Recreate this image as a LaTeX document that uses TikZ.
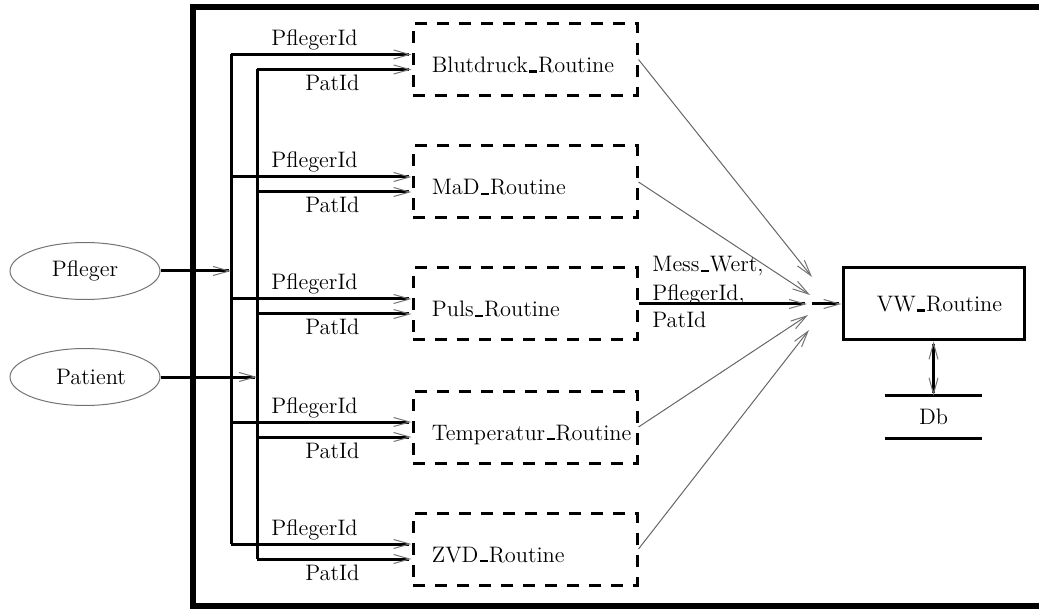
\documentclass[tikz,border=0pt]{standalone}
\usetikzlibrary{arrows.meta,shapes.geometric,calc}
% old-style LaTeX underscore: a short bar sitting on the baseline
\newcommand\us{\kern.06em\rule[-0.02em]{0.36em}{0.12em}\kern.04em}

\begin{document}
\begin{tikzpicture}[x=0.5pt,y=-0.5pt,
  font=\fontsize{11.2}{13.5}\selectfont,
  >={Straight Barb[length=8pt,width=4.5pt,line width=0.5pt,color=black!55]},
  wire/.style={line width=1.5pt},
  thinwire/.style={line width=0.5pt, draw=black!60},
  routine/.style={draw, dash pattern=on 6pt off 5pt, line width=1.5pt,
    minimum width=112pt, minimum height=36pt, inner sep=0pt},
  actor/.style={ellipse, draw=black!55, line width=0.5pt,
    minimum width=75pt, minimum height=28.5pt, inner sep=0pt},
  lbl/.style={inner sep=0pt},
]
\useasboundingbox (0,0) rectangle (1039,609);
\clip (0,0) rectangle (1039,609);

% system boundary, open to the right
\draw[line width=3pt] (1060,7) -- (193,7) -- (193,606) -- (1060,606);

% the five measuring routines with their two inputs each
\foreach \n/\c/\t in {1/59.5/Blutdruck, 2/182/MaD, 3/304/Puls, 4/427/Temperatur, 5/549/ZVD}{
  \node[routine] (b\n) at (525,\c) {};
  \node[lbl, anchor=base west] (bt\n) at ($(b\n.west)+(20,13)$) {\t\us Routine};
  \coordinate (pf\n) at (231,{\c-5});
  \coordinate (pa\n) at (257,{\c+10});
  \draw[wire,->] (pf\n) -- (pf\n -| b\n.west);
  \draw[wire,->] (pa\n) -- (pa\n -| b\n.west);
  \node[lbl, anchor=base west] (lpf\n) at ($(pf\n)+(40,-9)$) {PflegerId};
  \node[lbl, anchor=base west] (lpa\n) at ($(pa\n)+(48,21)$) {PatId};
}

% distribution buses
\draw[wire] (pf1) -- (pf5);
\draw[wire] (pa1) -- (pa5);

% external actors
\node[actor] (pfleger) at (85,271) {Pfleger};
\node[actor] (patient) at (85,377) {\hspace*{6pt}Patient};
\draw[wire,->] (pfleger.east) -- (pfleger.east -| pf1);
\draw[wire,->] (patient.east) -- (patient.east -| pa1);

% administration routine and database
\node[draw, wire, minimum width=90.5pt, minimum height=36pt, inner sep=0pt]
  (vw) at (933.5,304) {\hspace*{6pt}VW\us Routine};
\node[lbl, minimum width=48.5pt, minimum height=21pt] (db) at (933.5,417) {Db};
\draw[wire] (db.north west) -- (db.north east);
\draw[wire] (db.south west) -- (db.south east);
\draw[wire,<->] (vw.south) -- (db.north);

% measured values flowing to the administration routine
\coordinate (t1) at (812,277);
\coordinate (t2) at (810,295);
\coordinate (t3) at (807,304);
\coordinate (t4) at (808,315);
\coordinate (t5) at (809,330);
\coordinate (j) at (812,304);
\draw[thinwire,->] (b1.east) -- (t1);
\draw[thinwire,->] (b2.east) -- (t2);
\draw[wire,->] (b3.east) -- (t3);
\draw[thinwire,->] (b4.east) -- (t4);
\draw[thinwire,->] (b5.east) -- (t5);
\draw[wire,->] (j) -- (vw.west);

\node[lbl, anchor=base west] (m1) at (652,272) {Mess\us Wert,};
\node[lbl, anchor=base west] (m2) at (652,300) {PflegerId,};
\node[lbl, anchor=base west] (m3) at (652,328) {PatId};
\end{tikzpicture}
\end{document}
